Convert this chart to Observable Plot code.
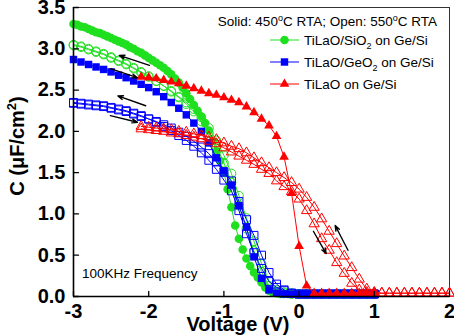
<!DOCTYPE html>
<html>
<head>
<meta charset="utf-8">
<script src="https://cdn.jsdelivr.net/npm/d3@7"></script>
<script src="https://cdn.jsdelivr.net/npm/@observablehq/plot@0.6"></script>
<style>
  body { margin: 0; background: #fff; }
  #chart { position: relative; width: 454px; height: 336px; font-family: "Liberation Sans", Arial, sans-serif; }
  #chart svg { position: absolute; left: 0; top: 0; }
</style>
</head>
<body>
<div id="chart"></div>
<script>
// Axis ticks
const xDomain = [-3, 2];
const yDomain = [0, 3.5];
const xTicks = [-3, -2, -1, 0, 1, 2];
const yTicks = [0, 0.5, 1.0, 1.5, 2.0, 2.5, 3.0, 3.5];

// Gate voltage grids (V)
const vFine = [
  -3.00, -2.95, -2.90, -2.85, -2.80, -2.75, -2.70, -2.65, -2.60, -2.55,
  -2.50, -2.45, -2.40, -2.35, -2.30, -2.25, -2.20, -2.15, -2.10, -2.05,
  -2.00, -1.95, -1.90, -1.85, -1.80, -1.75, -1.70, -1.65, -1.60, -1.55,
  -1.50, -1.45, -1.40, -1.35, -1.30, -1.25, -1.20, -1.15, -1.10, -1.05,
  -1.00, -0.95, -0.90, -0.85, -0.80, -0.75, -0.70, -0.65, -0.60, -0.55,
  -0.50, -0.45, -0.40, -0.35, -0.30, -0.25, -0.20, -0.15, -0.10, -0.05,
   0.00,  0.05,  0.10,  0.15,  0.20,  0.25,  0.30,  0.35,  0.40,  0.45,
   0.50,  0.55,  0.60,  0.65,  0.70,  0.75,  0.80,  0.85,  0.90,  0.95,
   1.00
];
const vSweep = [
  -3.0, -2.9, -2.8, -2.7, -2.6, -2.5, -2.4, -2.3, -2.2, -2.1,
  -2.0, -1.9, -1.8, -1.7, -1.6, -1.5, -1.4, -1.3, -1.2, -1.1,
  -1.0, -0.9, -0.8, -0.7, -0.6, -0.5, -0.4, -0.3, -0.2, -0.1,
   0.0,  0.1,  0.2,  0.3,  0.4,  0.5,  0.6,  0.7,  0.8,  0.9,
   1.0,  1.1,  1.2,  1.3,  1.4,  1.5,  1.6,  1.7,  1.8,  1.9,
   2.0
];

// Capacitance (uF/cm^2) — TiLaO/SiO2 on Ge/Si
const cSiO2_450 = [
  3.30, 3.29, 3.27, 3.26, 3.24, 3.22, 3.20, 3.19, 3.17, 3.15,
  3.13, 3.11, 3.09, 3.07, 3.05, 3.02, 3.00, 2.97, 2.95, 2.92,
  2.89, 2.86, 2.83, 2.80, 2.77, 2.73, 2.69, 2.64, 2.59, 2.53,
  2.46, 2.39, 2.32, 2.25, 2.18, 2.10, 2.01, 1.89, 1.76, 1.64,
  1.50, 1.30, 1.08, 0.86, 0.70, 0.57, 0.46, 0.37, 0.29, 0.23,
  0.17, 0.11, 0.07, 0.05, 0.04, 0.03, 0.03, 0.03, 0.03, 0.03,
  0.03, 0.03, 0.03, 0.03, 0.03, 0.03, 0.03, 0.03, 0.03, 0.03,
  0.03, 0.03, 0.03, 0.03, 0.03, 0.03, 0.03, 0.03, 0.03, 0.03,
  0.03
];
const cSiO2_550_up = [
  3.05, 3.03, 3.00, 2.97, 2.94, 2.90, 2.86, 2.82, 2.77, 2.72,
  2.67, 2.61, 2.55, 2.48, 2.41, 2.33, 2.24, 2.12, 1.98, 1.82,
  1.62, 1.38, 1.10, 0.82, 0.55, 0.30, 0.13, 0.06, 0.04, 0.03,
  0.03, 0.03, 0.03, 0.03, 0.03, 0.03, 0.03, 0.03, 0.03, 0.03,
  0.03
];
const cSiO2_550_down = [
  3.04, 3.02, 2.99, 2.96, 2.93, 2.89, 2.85, 2.81, 2.76, 2.71,
  2.66, 2.61, 2.55, 2.49, 2.42, 2.35, 2.27, 2.17, 2.04, 1.89,
  1.71, 1.49, 1.22, 0.95, 0.67, 0.40, 0.19, 0.08, 0.05, 0.04,
  0.03, 0.03, 0.03, 0.03, 0.03, 0.03, 0.03, 0.03, 0.03, 0.03,
  0.03
];

// TiLaO/GeO2 on Ge/Si
const cGeO2_450 = [
  2.87, 2.84, 2.81, 2.78, 2.75, 2.72, 2.68, 2.65, 2.61, 2.57,
  2.53, 2.48, 2.42, 2.35, 2.28, 2.20, 2.10, 2.00, 1.86, 1.68,
  1.52, 1.35, 1.10, 0.84, 0.48, 0.22, 0.08, 0.04, 0.03, 0.03,
  0.03, 0.03, 0.03, 0.03, 0.03, 0.03, 0.03, 0.03, 0.03, 0.03,
  0.03
];
const cGeO2_550_up = [
  2.35, 2.34, 2.33, 2.32, 2.31, 2.29, 2.27, 2.25, 2.22, 2.19,
  2.15, 2.11, 2.06, 2.01, 1.95, 1.89, 1.82, 1.74, 1.65, 1.54,
  1.41, 1.28, 1.04, 0.76, 0.53, 0.34, 0.18, 0.11, 0.07, 0.04,
  0.03, 0.03, 0.03, 0.03, 0.03, 0.03, 0.03, 0.03, 0.03, 0.03,
  0.03
];
const cGeO2_550_down = [
  2.34, 2.33, 2.32, 2.31, 2.30, 2.28, 2.26, 2.24, 2.21, 2.18,
  2.15, 2.12, 2.08, 2.04, 1.99, 1.94, 1.88, 1.81, 1.73, 1.63,
  1.51, 1.40, 1.15, 0.93, 0.74, 0.50, 0.29, 0.15, 0.08, 0.04,
  0.03, 0.03, 0.03, 0.03, 0.03, 0.03, 0.03, 0.03, 0.03, 0.03,
  0.03
];

// TiLaO on Ge/Si (sweeps start at -2.1 V)
const cTiLaO_450 = [
  2.66, 2.65, 2.64, 2.62, 2.60, 2.58, 2.55, 2.52, 2.49, 2.46,
  2.44, 2.41, 2.38, 2.35, 2.30, 2.23, 2.15, 2.07, 1.94, 1.69,
  1.25, 0.61, 0.13, 0.04, 0.04, 0.04, 0.04, 0.04, 0.04, 0.04,
  0.04, 0.04
];
const cTiLaO_550_up = [
  2.06, 2.05, 2.04, 2.03, 2.02, 2.00, 1.99, 1.97, 1.95, 1.93,
  1.90, 1.86, 1.82, 1.79, 1.74, 1.68, 1.62, 1.56, 1.50, 1.44,
  1.38, 1.30, 1.20, 1.08, 0.94, 0.79, 0.64, 0.49, 0.35, 0.21,
  0.09, 0.05, 0.04, 0.04, 0.04, 0.04, 0.04, 0.04, 0.04, 0.04,
  0.04, 0.04
];
const cTiLaO_550_down = [
  2.03, 2.02, 2.01, 2.00, 1.98, 1.97, 1.95, 1.93, 1.91, 1.88,
  1.85, 1.80, 1.75, 1.70, 1.65, 1.60, 1.54, 1.49, 1.40, 1.33,
  1.27, 1.18, 1.04, 0.88, 0.70, 0.56, 0.41, 0.28, 0.16, 0.08,
  0.05, 0.04, 0.04, 0.04, 0.04, 0.04, 0.04, 0.04, 0.04, 0.04,
  0.04, 0.04
];

// Sweep-direction arrows (V, C)
const sweepArrows = [
  {x1: -1.99, y1: 2.80, x2: -2.39, y2: 2.92},
  {x1: -2.51, y1: 2.76, x2: -2.15, y2: 2.65},
  {x1: -2.04, y1: 2.31, x2: -2.41, y2: 2.43},
  {x1: -2.51, y1: 2.19, x2: -2.15, y2: 2.11},
  {x1: 0.19, y1: 0.79, x2: 0.36, y2: 0.52},
  {x1: 0.65, y1: 0.56, x2: 0.48, y2: 0.86}
];

// Text
const annealNote = ["Solid: 450", "o", "C RTA; Open: 550", "o", "C RTA"];
const legendLabels = [
  {main: "TiLaO/SiO", sub: "2", rest: "  on Ge/Si"},
  {main: "TiLaO/GeO", sub: "2", rest: " on Ge/Si"},
  {main: "TiLaO on Ge/Si", sub: "", rest: ""}
];
const freqNote = "100KHz Frequency";
const xTitle = "Voltage (V)";

const green = "#1fe01f", blue = "#0000ff", red = "#ff0000";

const pts = (vs, cs) => cs.map((c, i) => ({v: vs[i], c}));
const gSolid = pts(vFine, cSiO2_450);
const gOpenA = pts(vSweep, cSiO2_550_up);
const gOpenB = pts(vSweep, cSiO2_550_down);
const bSolid = pts(vSweep, cGeO2_450);
const bOpenA = pts(vSweep, cGeO2_550_up);
const bOpenB = pts(vSweep, cGeO2_550_down);
const rSweep = vSweep.slice(vSweep.indexOf(-2.1));
const rSolid = pts(rSweep, cTiLaO_450);
const rOpenA = pts(rSweep, cTiLaO_550_up);
const rOpenB = pts(rSweep, cTiLaO_550_down);

const line = (data, color) => Plot.line(data, {x: "v", y: "c", stroke: color, strokeWidth: 1});
const filled = (data, color, symbol, r) => Plot.dot(data, {x: "v", y: "c", symbol, r, fill: color, stroke: "none"});
const hollow = (data, color, symbol, r) => Plot.dot(data, {x: "v", y: "c", symbol, r, fill: "none", stroke: color, strokeWidth: 1});

// short inward tick drawn from the anchor point
const tickShape = {draw(ctx, l) { ctx.moveTo(0, 0); ctx.lineTo(0, -l); }};

const plot = Plot.plot({
  width: 454,
  height: 336,
  marginLeft: 73,
  marginRight: 5,
  marginTop: 7,
  marginBottom: 40,
  x: {domain: xDomain},
  y: {domain: yDomain},
  style: {fontFamily: "'Liberation Sans', Arial, sans-serif", color: "#000", background: "transparent"},
  marks: [
    Plot.frame({stroke: "#333", strokeWidth: 1}),
    line(gOpenA, green), line(gOpenB, green),
    hollow(gOpenA, green, "circle", 4.4), hollow(gOpenB, green, "circle", 4.4),
    line(gSolid, green),
    filled(gSolid, green, "circle", 4.3),
    line(bOpenA, blue), line(bOpenB, blue),
    hollow(bOpenA, blue, "square", 4.5), hollow(bOpenB, blue, "square", 4.5),
    line(bSolid, blue),
    filled(bSolid, blue, "square", 4.2),
    line(rOpenA, red), line(rOpenB, red),
    hollow(rOpenA, red, "triangle", 3.8), hollow(rOpenB, red, "triangle", 3.8),
    line(rSolid, red),
    filled(rSolid, red, "triangle", 3.6),
    Plot.arrow(sweepArrows, {x1: "x1", y1: "y1", x2: "x2", y2: "y2", stroke: "#000", strokeWidth: 1.4, headLength: 6, headAngle: 40}),
    Plot.ruleX([xDomain[0]], {stroke: "#000", strokeWidth: 1.6}),
    Plot.ruleY([yDomain[0]], {stroke: "#000", strokeWidth: 1.6}),
    Plot.vector(xTicks, {x: d => d, y: yDomain[0], length: 5, rotate: 0, anchor: "start", shape: tickShape, stroke: "#000", strokeWidth: 1.3}),
    Plot.vector(yTicks, {x: xDomain[0], y: d => d, length: 5, rotate: 90, anchor: "start", shape: tickShape, stroke: "#000", strokeWidth: 1.3}),
    Plot.axisX(xTicks, {tickSize: 0, tickPadding: 7, tickFormat: d => String(d), fontSize: 20, fontWeight: "bold", label: null}),
    Plot.axisY(yTicks, {tickSize: 0, tickPadding: 8, tickFormat: d => d.toFixed(1), fontSize: 20, fontWeight: "bold", label: null})
  ]
});
document.getElementById("chart").appendChild(plot);

// Titles, legend and notes
const ann = d3.select("#chart").append("svg")
  .attr("width", 454).attr("height", 336)
  .style("font-family", "'Liberation Sans', Arial, sans-serif")
  .style("white-space", "pre");

const yTitle = ann.append("text")
  .attr("transform", "translate(24,146) rotate(-90)")
  .attr("text-anchor", "middle")
  .attr("font-size", 20).attr("font-weight", "bold");
yTitle.append("tspan").text("C (\u03bcF/cm");
yTitle.append("tspan").attr("font-size", 13).attr("dy", -8).text("2");
yTitle.append("tspan").attr("dy", 8).text(")");

ann.append("text")
  .attr("x", 238).attr("y", 331)
  .attr("text-anchor", "middle")
  .attr("font-size", 20).attr("font-weight", "bold")
  .text(xTitle);

const note = ann.append("text")
  .attr("x", 437).attr("y", 26)
  .attr("text-anchor", "end")
  .attr("font-size", 13.5);
annealNote.forEach((s, i) => {
  const t = note.append("tspan").text(s);
  if (i % 2 === 1) t.attr("font-size", 9).attr("dy", -5);
  else if (i > 0) t.attr("dy", 5);
});

const symbols = [d3.symbolCircle, d3.symbolSquare, d3.symbolTriangle];
const colors = [green, blue, red];
const radii = [4.3, 4.2, 3.6];
legendLabels.forEach((d, i) => {
  const y = 40 + 22 * i;
  const g = ann.append("g");
  g.append("line").attr("x1", 270).attr("x2", 299).attr("y1", y).attr("y2", y)
    .attr("stroke", colors[i]).attr("stroke-width", 1);
  g.append("path").attr("transform", `translate(284.5,${y})`)
    .attr("d", d3.symbol(symbols[i], Math.PI * radii[i] * radii[i])())
    .attr("fill", colors[i]);
  const t = g.append("text").attr("x", 304).attr("y", y + 5).attr("font-size", 13.5);
  t.append("tspan").text(d.main);
  if (d.sub) {
    t.append("tspan").attr("font-size", 9).attr("dy", 4).text(d.sub);
    t.append("tspan").attr("dy", -4).text(d.rest);
  }
});

ann.append("text")
  .attr("x", 82).attr("y", 278)
  .attr("font-size", 13.5)
  .text(freqNote);
</script>
</body>
</html>
